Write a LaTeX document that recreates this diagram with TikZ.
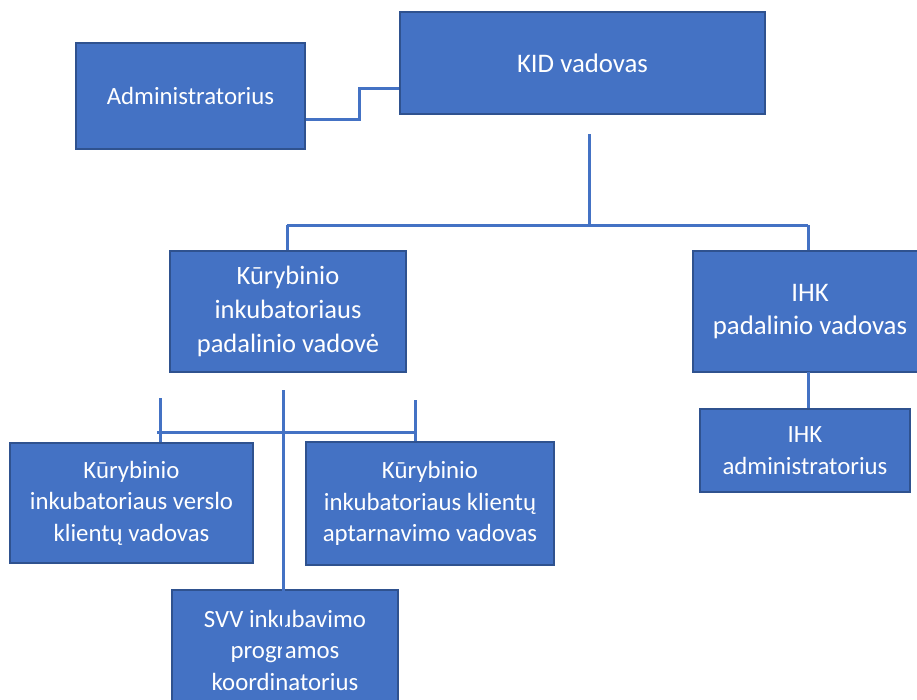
\documentclass[tikz,border=0pt]{standalone}
\usepackage{fontspec}
\setmainfont{Carlito}
\definecolor{boxfill}{HTML}{4472C4}
\definecolor{boxedge}{HTML}{2F528F}
\definecolor{linec}{HTML}{4472C4}
\begin{document}
\begin{tikzpicture}[x=1pt,y=-1pt,
  orgbox/.style={draw=boxedge,line width=1.5pt,fill=boxfill,text=white,align=center,
    font=\fontsize{24.8}{31.5}\selectfont,inner sep=0pt},
  wide/.style={font=\fontsize{26.5}{34}\selectfont},
  mid/.style={font=\fontsize{26.8}{33}\selectfont},
  conn/.style={draw=linec,line width=3pt}]
\useasboundingbox (0,0) rectangle (917,699);
% boxes
\node[orgbox,minimum width=229,minimum height=106] (adm) at (190.5,96) {Administratorius};
\node[orgbox,mid,minimum width=365,minimum height=102] (kid) at (582.5,63) {KID vadovas};
\node[orgbox,wide,minimum width=236,minimum height=121] (kip) at (288,311.5) {Kūrybinio\\inkubatoriaus\\padalinio vadovė};
\node[orgbox,mid,minimum width=234,minimum height=121] (ihk) at (810,311.5) {IHK\\padalinio vadovas};
\node[orgbox,minimum width=210,minimum height=83] (ihka) at (805,450.5) {IHK\\administratorius};
\node[orgbox,minimum width=243,minimum height=120] (kv) at (131.5,503) {Kūrybinio\\inkubatoriaus verslo\\klientų vadovas};
\node[orgbox,minimum width=248,minimum height=123] (ka) at (430,503.5) {Kūrybinio\\inkubatoriaus klientų\\aptarnavimo vadovas};
\node[orgbox,minimum width=226,minimum height=120] (svv) at (285,650) {SVV inkubavimo\\programos\\koordinatorius};
% connectors
\coordinate (a1) at (359,119);
\coordinate (a2) at (359,88);
\draw[conn] (adm.east |- a1) -- (a1) -- (a2) -- (kid.west |- a2);
\coordinate (k1) at (589,134);
\coordinate (k2) at (589,225);
\coordinate (hl) at (287,225);
\coordinate (hr) at (808,225);
\draw[conn] (k1) -- (k2);
\draw[conn] (hl) -- (hr);
\draw[conn] (hl) -- (hl |- kip.north);
\draw[conn] (hr) -- (hr |- ihk.north);
\coordinate (i1) at (808,372);
\draw[conn] (i1) -- (i1 |- ihka.north);
\coordinate (bl) at (157,432);
\coordinate (br) at (417,432);
\draw[conn] (bl) -- (br);
\coordinate (vl) at (160,398);
\coordinate (vr) at (415,400);
\draw[conn] (vl) -- (vl |- kv.north);
\draw[conn] (vr) -- (vr |- ka.north);
\coordinate (m1) at (283,390);
\coordinate (m2) at (283,650);
\draw[conn] (m1) -- (m2);
\end{tikzpicture}
\end{document}
